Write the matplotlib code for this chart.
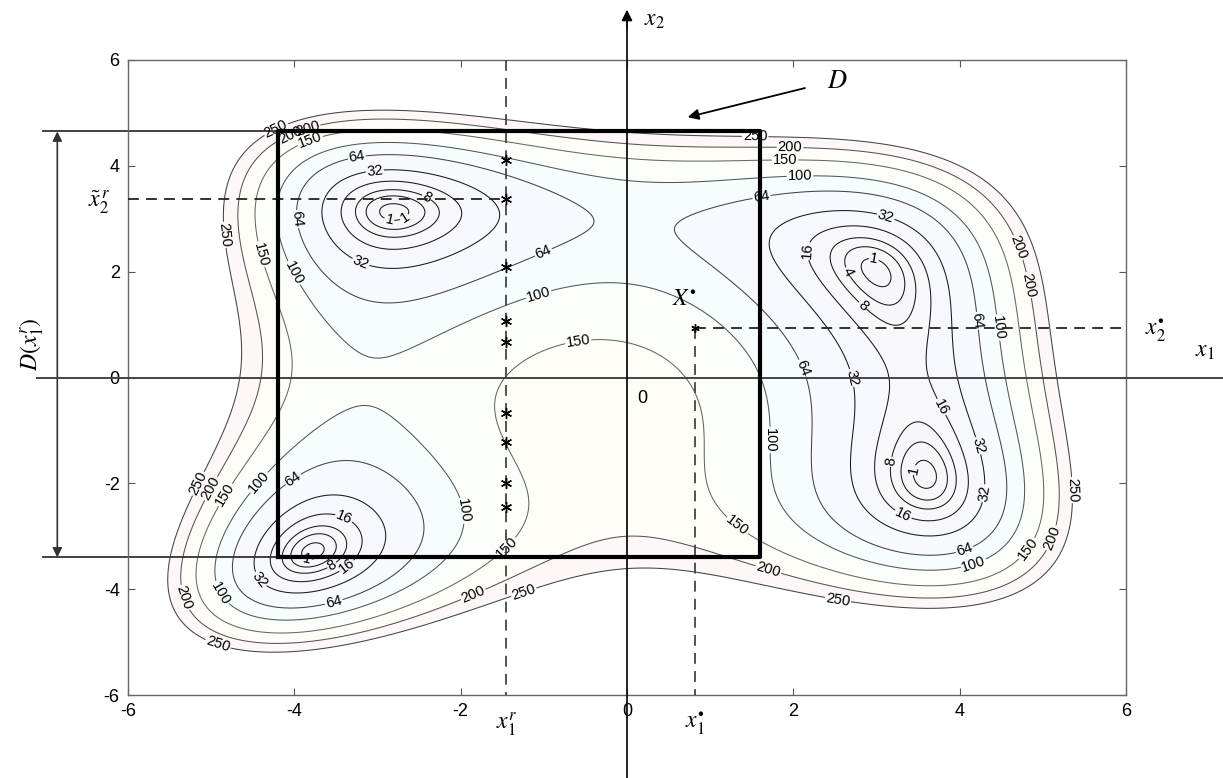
import numpy as np
import matplotlib
matplotlib.use("Agg")
import matplotlib.pyplot as plt

plt.rcParams['mathtext.fontset'] = 'stix'
plt.rcParams['font.family'] = ['Liberation Sans', 'DejaVu Sans']
plt.rcParams['axes.unicode_minus'] = False

# contour levels shown in the picture
levels = [1, 4, 8, 16, 32, 64, 100, 150, 200, 250]

# region D (box) and the probe points on x1 = x1^r
box_x = [-4.2, 1.6]
box_y = [-3.4, 4.65]
x1_r = -1.45
x2_r = 3.37
probe_y = [4.11, 3.37, 2.08, 1.07, 0.67, -0.67, -1.21, -1.99, -2.44]
x_star = [0.82, 0.93]
ticks = [-6, -4, -2, 0, 2, 4, 6]

# where the contour labels sit (approximate spots)
label_spots = [
    (-4.32, 5.02), (-3.85, 4.76), (-4.05, 4.6), (-3.8, 4.43),
    (-3.24, 4.11), (-3.03, 3.86), (-2.4, 3.43), (-2.85, 3.05), (-2.65, 2.95),
    (-4.05, 2.98), (-4.87, 2.69), (-4.44, 2.31), (-4.05, 1.94),
    (-3.2, 2.18), (-0.99, 2.31), (-1.05, 1.5), (-0.59, 0.71),
    (1.54, 4.54), (1.96, 4.36), (1.9, 4.15), (2.08, 3.77), (1.62, 3.39),
    (3.1, 2.98), (2.02, 2.41), (2.6, 1.95), (2.8, 1.3), (2.95, 2.1),
    (4.78, 2.5), (4.84, 1.75), (4.4, 0.93), (4.1, 1.05),
    (2.05, 0.14), (2.59, -0.05), (1.66, -1.18), (3.7, -0.62),
    (4.2, -1.3), (4.35, -2.2), (3.2, -1.6), (3.35, -2.5), (3.45, -1.75),
    (4.07, -3.3), (4.18, -3.58), (4.8, -3.22), (5.17, -3.07), (5.3, -2.13),
    (2.53, -4.26), (1.69, -3.68), (1.33, -2.79),
    (-1.23, -4.11), (-1.83, -4.17), (-1.38, -3.32), (-2.07, -2.54),
    (-3.99, -1.98), (-4.39, -2.03), (-5.19, -1.98), (-5.0, -2.1), (-4.85, -2.2),
    (-3.39, -2.6), (-4.47, -3.89), (-4.98, -4.17), (-5.4, -4.2),
    (-4.95, -5.19), (-3.51, -4.34), (-3.85, -3.45), (-3.55, -3.55), (-3.4, -3.5),
]


def himmelblau(x, y):
    return (x**2 + y - 11)**2 + (x + y**2 - 7)**2


gx = np.linspace(-6, 6, 400)
gy = np.linspace(-6, 6, 400)
X, Y = np.meshgrid(gx, gy)
Z = himmelblau(X, Y)

fig = plt.figure(figsize=(12.23, 7.78), dpi=100)
ax = fig.add_axes([128/1223, 83/778, 998/1223, 635/778])

ax.set_xlim(-6, 6)
ax.set_ylim(-6, 6)

# very faint coloured bands, like the jet shading behind the lines
ax.contourf(X, Y, Z, levels=[0] + levels, cmap='jet', alpha=0.03)
line_cols = ['#1a1a1a'] * 5 + ['#444444', '#555555', '#666666', '#555555', '#444444']
cs = ax.contour(X, Y, Z, levels=levels, colors=line_cols, linewidths=0.75)
ax.clabel(cs, fmt='%d', fontsize=10.5, inline=True, inline_spacing=1,
          colors='black', manual=label_spots)

ax.set_xticks(ticks)
ax.set_yticks(ticks)
ax.tick_params(direction='in', top=True, right=True, labelsize=13, length=5,
               color='#555555', pad=6)
for sp in ax.spines.values():
    sp.set_color('#666666')
    sp.set_linewidth(1.0)

# box D
ax.plot([box_x[0], box_x[1], box_x[1], box_x[0], box_x[0]],
        [box_y[0], box_y[0], box_y[1], box_y[1], box_y[0]],
        color='black', lw=3, zorder=5)

# extension lines to the left of the box
for yy in box_y:
    ax.plot([-7.02, box_x[0]], [yy, yy], color='#333333', lw=1.3, clip_on=False)
ax.annotate('', xy=(-6.85, box_y[1]), xytext=(-6.85, box_y[0]),
            arrowprops=dict(arrowstyle='<|-|>', color='#333333', lw=1.2,
                            mutation_scale=14, shrinkA=0, shrinkB=0),
            annotation_clip=False)
ax.text(-7.15, 0.5 * (box_y[0] + box_y[1]), r'$D(x_1^r)$', rotation=90,
        fontsize=17, ha='center', va='center', clip_on=False)

# coordinate axes through the origin
ax.plot([-7.1, 7.2], [0, 0], color='#444444', lw=1.4, clip_on=False, zorder=4)
ax.plot([0, 0], [-7.6, 6.75], color='#111111', lw=1.3, clip_on=False, zorder=4)
ax.annotate('', xy=(0, 6.95), xytext=(0, 6.6),
            arrowprops=dict(arrowstyle='-|>', color='black', lw=1.2,
                            mutation_scale=16, shrinkA=0, shrinkB=0),
            annotation_clip=False)
ax.text(0.2, 6.75, r'$x_2$', fontsize=17, ha='left', va='center', clip_on=False)
ax.text(6.95, 0.5, r'$x_1$', fontsize=17, ha='center', va='center', clip_on=False)
ax.text(0.19, -0.39, '0', fontsize=13, ha='center', va='center')

# dashed guide lines
ax.plot([x1_r, x1_r], [6, -6], color='#444444', lw=1.3, ls=(0, (6, 4)), zorder=4)
ax.plot([-6, x1_r], [x2_r, x2_r], color='#222222', lw=1.3, ls=(0, (6, 4)), zorder=4)
ax.plot([x_star[0], x_star[0]], [x_star[1], -6], color='#444444', lw=1.3,
        ls=(0, (6, 4)), zorder=4)
ax.plot([x_star[0], 6], [x_star[1], x_star[1]], color='#222222', lw=1.3,
        ls=(0, (6, 4)), zorder=4)

# probe points and optimum
ax.plot([x1_r] * len(probe_y), probe_y, ls='none', marker=(6, 2, 0),
        ms=8, mew=1.0, color='black', zorder=6)
ax.plot([x_star[0]], [x_star[1]], ls='none', marker=(6, 2, 0), ms=6, mew=1.0,
        color='black', zorder=6)
ax.text(x_star[0] - 0.28, x_star[1] + 0.55, r'$X^{\bullet}$', fontsize=17,
        ha='left', va='center')

# labels for the guide lines
ax.text(-6.35, x2_r - 0.05, r'$\tilde{x}_2^{\,r}$', fontsize=17, ha='center',
        va='center', clip_on=False)
ax.text(6.35, x_star[1] - 0.05, r'$x_2^{\bullet}$', fontsize=17, ha='center',
        va='center', clip_on=False)
ax.text(x1_r, -6.55, r'$x_1^{r}$', fontsize=17, ha='center', va='center',
        clip_on=False)
ax.text(x_star[0], -6.55, r'$x_1^{\bullet}$', fontsize=17, ha='center',
        va='center', clip_on=False)

# pointer to D
ax.annotate('', xy=(0.73, 4.92), xytext=(2.14, 5.47),
            arrowprops=dict(arrowstyle='-|>', color='black', lw=1.3,
                            mutation_scale=16, shrinkA=0, shrinkB=0),
            annotation_clip=False)
ax.text(2.4, 5.6, r'$D$', fontsize=19, ha='left', va='center')

plt.savefig('out.png', dpi=100)
